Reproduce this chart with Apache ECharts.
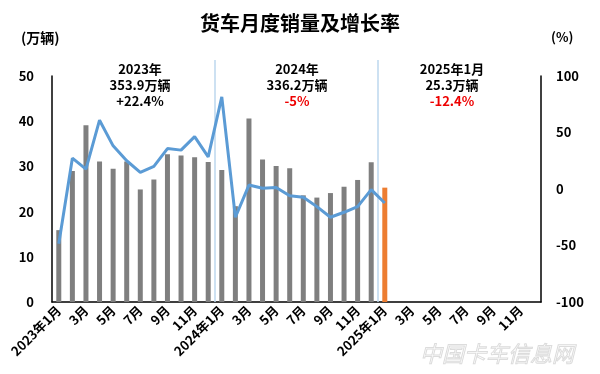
<!DOCTYPE html>
<html><head><meta charset="utf-8">
<script src="https://cdn.jsdelivr.net/npm/echarts@6/dist/echarts.min.js"></script>
<style>html,body{margin:0;padding:0;background:#fff}#c{width:600px;height:374px}</style>
</head><body><div id="c"></div>
<script>
const categories = [
  '2023年1月','2月','3月','4月','5月','6月','7月','8月','9月','10月','11月','12月',
  '2024年1月','2月','3月','4月','5月','6月','7月','8月','9月','10月','11月','12月',
  '2025年1月','2月','3月','4月','5月','6月','7月','8月','9月','10月','11月','12月'
];
// monthly sales, 10k units
const sales = [
  15.9, 29.0, 39.1, 31.1, 29.5, 31.1, 24.9, 27.1, 32.7, 32.4, 32.0, 31.0,
  29.2, 21.2, 40.6, 31.5, 30.1, 29.6, 23.6, 23.1, 24.1, 25.5, 27.0, 30.9,
  25.3, null, null, null, null, null, null, null, null, null, null, null
];
// YoY growth, %
const growth = [
  -48.5, 27.3, 17.6, 60.9, 38.2, 25.0, 14.7, 20.0, 35.8, 34.4, 46.4, 28.5,
  81.5, -25.0, 3.5, 0.6, 1.4, -5.9, -7.4, -15.6, -25.0, -20.6, -15.6, -0.6,
  -12.4, null, null, null, null, null, null, null, null, null, null, null
];
const highlightIndex = 24;
const leftTicks = {min: 0, max: 50, interval: 10};
const rightTicks = {min: -100, max: 100, interval: 50};
const notes = [
  {year: '2023年', total: '353.9万辆', rate: '+22.4%', up: true},
  {year: '2024年', total: '336.2万辆', rate: '-5%', up: false},
  {year: '2025年1月', total: '25.3万辆', rate: '-12.4%', up: false}
];

const FONT = '"Noto Sans CJK SC", "Noto Sans", sans-serif';
const chart = echarts.init(document.getElementById('c'));
const axisLabel = {color: '#000', fontWeight: 'bold', fontSize: 13, fontFamily: FONT};

chart.setOption({
  animation: false,
  title: {
    text: '货车月度销量及增长率', left: 'center', top: 8,
    textStyle: {fontSize: 20, fontWeight: 'bold', color: '#000', fontFamily: FONT}
  },
  grid: {left: 52, right: 59, top: 76, bottom: 72},
  xAxis: {
    type: 'category', data: categories, boundaryGap: true,
    axisLine: {lineStyle: {color: '#000', width: 1.5}},
    axisTick: {show: false},
    axisLabel: Object.assign({}, axisLabel, {interval: 1, rotate: 45, margin: 6})
  },
  yAxis: [
    Object.assign({type: 'value', position: 'left', splitLine: {show: false},
      axisLine: {show: true, lineStyle: {color: '#000', width: 1.5}}, axisTick: {show: false},
      axisLabel: Object.assign({}, axisLabel, {margin: 18})}, leftTicks),
    Object.assign({type: 'value', position: 'right', splitLine: {show: false},
      axisLine: {show: true, lineStyle: {color: '#000', width: 1.5}}, axisTick: {show: false},
      axisLabel: Object.assign({}, axisLabel, {margin: 15})}, rightTicks)
  ],
  series: [
    {
      type: 'bar', yAxisIndex: 0, barWidth: 5,
      data: sales.map((v, i) => ({value: v, itemStyle: {color: i === highlightIndex ? '#ed7d31' : '#7f7f7f'}}))
    },
    {
      type: 'line', yAxisIndex: 1, data: growth, showSymbol: false, symbol: 'none',
      lineStyle: {color: '#5b9bd5', width: 3}, connectNulls: false
    }
  ]
});

// separators & annotations
const px = i => chart.convertToPixel({xAxisIndex: 0}, i);
const bottom = chart.convertToPixel({yAxisIndex: 0}, 0);
const sep1 = (px(11) + px(12)) / 2;
const sep2 = (px(23) + px(24)) / 2;
const noteX = [140, 297, 452];
const graphics = [];
[sep1, sep2].forEach(x => graphics.push({
  type: 'line', shape: {x1: x, y1: 60, x2: x, y2: bottom}, z: 1,
  style: {stroke: '#bdd7ee', lineWidth: 1.5}
}));
notes.forEach((n, k) => {
  graphics.push({
    type: 'text', x: noteX[k], y: 61, z: 10,
    style: {
      text: '{a|' + n.year + '}\n{a|' + n.total + '}\n{' + (n.up ? 'a' : 'r') + '|' + n.rate + '}',
      align: 'center', verticalAlign: 'top',
      rich: {
        a: {fontSize: 13, fontWeight: 'bold', fill: '#000', fontFamily: FONT, lineHeight: 16, align: 'center'},
        r: {fontSize: 13, fontWeight: 'bold', fill: '#e00', fontFamily: FONT, lineHeight: 16, align: 'center'}
      }
    }
  });
});
graphics.push({type: 'text', x: 21, y: 31, style: {text: '(万辆)', fontSize: 14, fontWeight: 'bold', fill: '#000', fontFamily: FONT}});
graphics.push({type: 'text', x: 551, y: 31, style: {text: '(%)', fontSize: 13, fontWeight: 'bold', fill: '#000', fontFamily: FONT}});
graphics.push({type: 'text', x: 420, y: 343, z: 0, style: {text: '中国卡车信息网', fontSize: 22, fontStyle: 'italic', fill: 'rgba(0,0,0,0)', stroke: '#dcdcdc', lineWidth: 1, fontFamily: FONT}});
chart.setOption({graphic: graphics});
</script>
</body></html>
